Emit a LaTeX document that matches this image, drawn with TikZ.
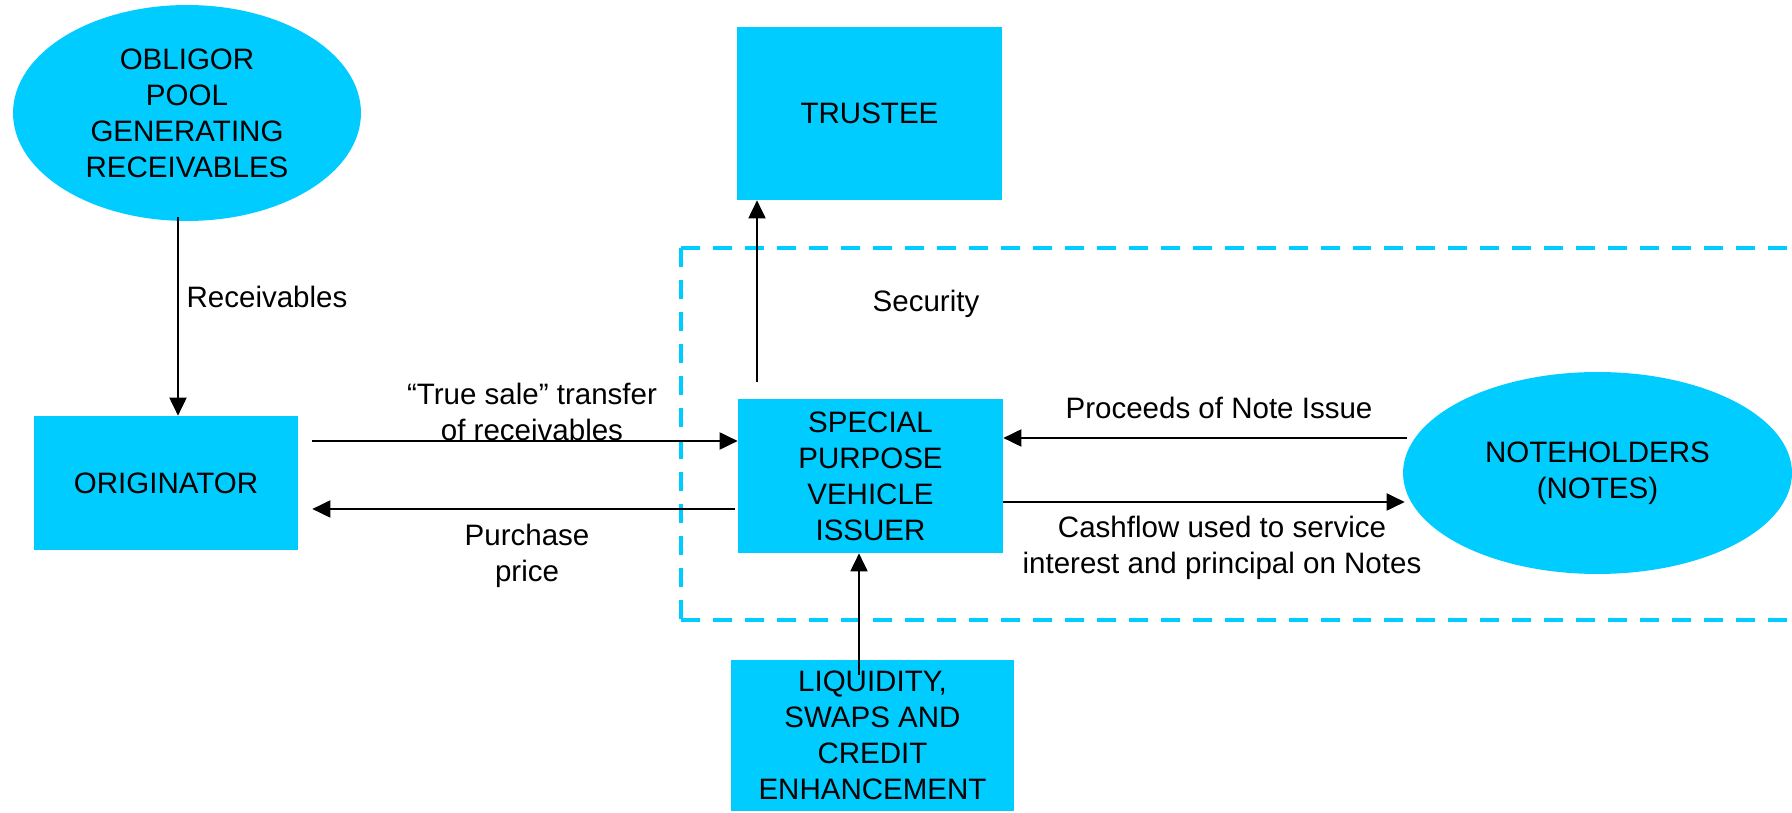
\documentclass[tikz,border=0pt]{standalone}
\usepackage{fontspec}
\setmainfont{Liberation Sans}
\usetikzlibrary{shapes.geometric,arrows.meta,calc}
\definecolor{sky}{RGB}{0,204,255}
\begin{document}
\begin{tikzpicture}[x=0.02cm,y=-0.02cm,
  every node/.style={font=\fontsize{16.8}{20.5}\selectfont, inner sep=0pt, align=center},
  boxnode/.style={fill=sky, rectangle},
  ovalnode/.style={fill=sky, ellipse},
  arr/.style={line width=1.1pt, -{Triangle[length=0.36cm,width=0.34cm]}},
  frame/.style={draw=sky, line width=2.6pt, dash pattern=on 10.8pt off 7.4pt}]
\useasboundingbox (0,0) rectangle (1792,813);

% dashed SPV frame
\coordinate (ftl) at (681,248);
\coordinate (fbl) at (681,620);
\coordinate (ftr) at (1792,248);
\coordinate (fbr) at (1792,620);
\draw[frame] (ftl) -- (ftr);
\draw[frame] (ftl) -- (fbl);
\draw[frame] (fbl) -- (fbr);

% nodes
\node[ovalnode, minimum width=6.96cm, minimum height=4.32cm] (obligor) at (187,113)
  {OBLIGOR\\POOL\\GENERATING\\RECEIVABLES};
\node[boxnode, minimum width=5.3cm, minimum height=3.46cm] (trustee) at (869.5,113.5) {TRUSTEE};
\node[boxnode, minimum width=5.28cm, minimum height=2.68cm] (originator) at (166,483) {ORIGINATOR};
\node[boxnode, minimum width=5.3cm, minimum height=3.08cm] (spv) at (870.5,476)
  {SPECIAL\\PURPOSE\\VEHICLE\\ISSUER};
\node[ovalnode, minimum width=7.78cm, minimum height=4.04cm] (nh) at (1597.5,473)
  {NOTEHOLDERS\\(NOTES)};
\node[boxnode, minimum width=5.66cm, minimum height=3.02cm] (liq) at (872.5,735.5)
  {LIQUIDITY,\\SWAPS AND\\CREDIT\\ENHANCEMENT};

% connectors
\coordinate (obs) at ($(obligor.south)+(-9,-4)$);
\draw[arr] (obs) -- (obs |- originator.north);

\coordinate (ts) at ($(originator.east)+(14,-42)$);
\draw[arr] (ts) -- (ts -| spv.west);

\coordinate (pp) at ($(spv.west)+(-3,33)$);
\coordinate (oe) at ($(originator.east)+(14,0)$);
\draw[arr] (pp) -- (pp -| oe);

\coordinate (sec) at ($(spv.north)+(-113.5,-17)$);
\draw[arr] (sec) -- (sec |- trustee.south);

\coordinate (pr) at ($(nh.west)+(4,-35)$);
\draw[arr] (pr) -- (pr -| spv.east);

\coordinate (cf) at ($(spv.east)+(0,26)$);
\coordinate (nw) at ($(nh.west)+(2,0)$);
\draw[arr] (cf) -- (cf -| nw);

\coordinate (lq) at ($(liq.north)+(-13.5,15)$);
\draw[arr] (lq) -- (lq |- spv.south);

% labels
\node (lrec) at (267,297) {Receivables};
\node (lts) at (532,412) {“True sale” transfer\\of receivables};
\node (lpp) at (527,556) {Purchase\\price};
\node (lsec) at (926,304) {Security};
\node (lpr) at (1219,408) {Proceeds of Note Issue};
\node (lcf) at (1222,548) {Cashflow used to service\\interest and principal on Notes};
\end{tikzpicture}
\end{document}
